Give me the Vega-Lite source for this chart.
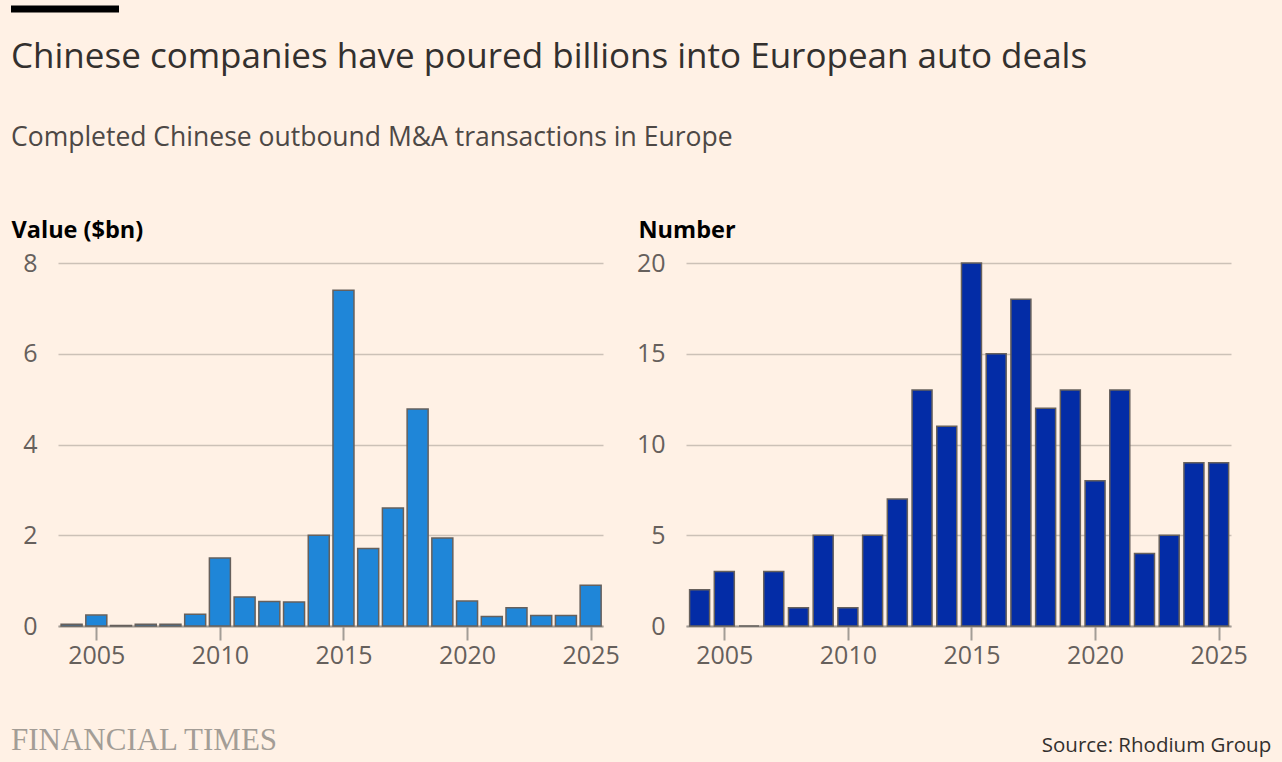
{
  "$schema": "https://vega.github.io/schema/vega-lite/v6.json",
  "background": "#fff1e5",
  "padding": {"left": 11, "top": 9, "right": 12, "bottom": 5},
  "spacing": -17,
  "config": {
    "font": "Open Sans",
    "view": {"stroke": null},
    "axis": {
      "labelFont": "Open Sans",
      "labelFontSize": 25,
      "labelColor": "#66605c",
      "titleFont": "Open Sans",
      "gridColor": "#ccc1b7",
      "gridWidth": 1.5,
      "domainColor": "#a39d96",
      "domainWidth": 2,
      "tickColor": "#a39d96",
      "tickWidth": 2
    }
  },
  "datasets": {
    "deals": [
      {"year": 2004, "value": 0.04, "number": 2},
      {"year": 2005, "value": 0.24, "number": 3},
      {"year": 2006, "value": 0.01, "number": 0},
      {"year": 2007, "value": 0.04, "number": 3},
      {"year": 2008, "value": 0.04, "number": 1},
      {"year": 2009, "value": 0.26, "number": 5},
      {"year": 2010, "value": 1.5, "number": 1},
      {"year": 2011, "value": 0.64, "number": 5},
      {"year": 2012, "value": 0.54, "number": 7},
      {"year": 2013, "value": 0.53, "number": 13},
      {"year": 2014, "value": 2.0, "number": 11},
      {"year": 2015, "value": 7.4, "number": 20},
      {"year": 2016, "value": 1.71, "number": 15},
      {"year": 2017, "value": 2.6, "number": 18},
      {"year": 2018, "value": 4.78, "number": 12},
      {"year": 2019, "value": 1.94, "number": 13},
      {"year": 2020, "value": 0.55, "number": 8},
      {"year": 2021, "value": 0.21, "number": 13},
      {"year": 2022, "value": 0.4, "number": 4},
      {"year": 2023, "value": 0.23, "number": 5},
      {"year": 2024, "value": 0.23, "number": 9},
      {"year": 2025, "value": 0.9, "number": 9}
    ]
  },
  "vconcat": [
    {
      "width": 108,
      "height": 1,
      "data": {"values": []},
      "mark": {"type": "point", "opacity": 0},
      "encoding": {
        "x": {
          "field": "x",
          "type": "quantitative",
          "scale": {"domain": [0, 1]},
          "axis": {
            "orient": "top",
            "title": null,
            "labels": false,
            "ticks": false,
            "grid": false,
            "domain": true,
            "domainColor": "#000000",
            "domainWidth": 7,
            "domainCap": "butt",
            "translate": -47,
            "offset": -47
          }
        }
      }
    },
    {
      "title": {
        "text": "Chinese companies have poured billions into European auto deals",
        "subtitle": "Completed Chinese outbound M&A transactions in Europe",
        "anchor": "start",
        "font": "Open Sans",
        "fontSize": 35,
        "fontWeight": "normal",
        "color": "#33302e",
        "subtitleFont": "Open Sans",
        "subtitleFontSize": 26.5,
        "subtitleColor": "#4d4845",
        "subtitlePadding": 50,
        "offset": 67
      },
      "spacing": 16,
      "hconcat": [
        {
          "width": 545,
          "height": 363,
          "data": {"name": "deals"},
          "title": {
            "text": "FINANCIAL TIMES",
            "orient": "bottom",
            "anchor": "start",
            "font": "Liberation Serif",
            "fontSize": 31,
            "fontWeight": "normal",
            "color": "#a39d96",
            "offset": 58
          },
          "mark": {"type": "bar", "width": 21, "color": "#1f86d8", "stroke": "#66605c", "strokeWidth": 1.5},
          "encoding": {
            "x": {
              "field": "year",
              "type": "quantitative",
              "scale": {"domain": [2003.45, 2025.5], "nice": false, "zero": false, "padding": 0},
              "axis": {
                "title": null,
                "values": [2005, 2010, 2015, 2020, 2025],
                "format": "d",
                "grid": false,
                "tickSize": 14,
                "labelPadding": 3
              }
            },
            "y": {
              "field": "value",
              "type": "quantitative",
              "scale": {"domain": [0, 8]},
              "axis": {
                "title": "Value ($bn)",
                "titleAngle": 0,
                "titleAlign": "left",
                "titleBaseline": "alphabetic",
                "titleX": -47,
                "titleY": -26,
                "titleFontSize": 23.5,
                "titleFontWeight": "bold",
                "titleColor": "#000000",
                "values": [0, 2, 4, 6, 8],
                "domain": false,
                "ticks": false,
                "tickSize": 0,
                "labelPadding": 21
              }
            }
          }
        },
        {
          "width": 545,
          "height": 363,
          "data": {"name": "deals"},
          "title": {
            "text": "Source: Rhodium Group",
            "orient": "bottom",
            "anchor": "end",
            "font": "Open Sans",
            "fontSize": 20.5,
            "fontWeight": "normal",
            "color": "#33302e",
            "offset": 68,
            "dx": 24
          },
          "mark": {"type": "bar", "width": 20, "color": "#032ca6", "stroke": "#66605c", "strokeWidth": 1.5},
          "encoding": {
            "x": {
              "field": "year",
              "type": "quantitative",
              "scale": {"domain": [2003.45, 2025.5], "nice": false, "zero": false, "padding": 0},
              "axis": {
                "title": null,
                "values": [2005, 2010, 2015, 2020, 2025],
                "format": "d",
                "grid": false,
                "tickSize": 14,
                "labelPadding": 3
              }
            },
            "y": {
              "field": "number",
              "type": "quantitative",
              "scale": {"domain": [0, 20]},
              "axis": {
                "title": "Number",
                "titleAngle": 0,
                "titleAlign": "left",
                "titleBaseline": "alphabetic",
                "titleX": -48,
                "titleY": -26,
                "titleFontSize": 23.5,
                "titleFontWeight": "bold",
                "titleColor": "#000000",
                "values": [0, 5, 10, 15, 20],
                "domain": false,
                "ticks": false,
                "tickSize": 0,
                "labelPadding": 21
              }
            }
          }
        }
      ]
    }
  ]
}
